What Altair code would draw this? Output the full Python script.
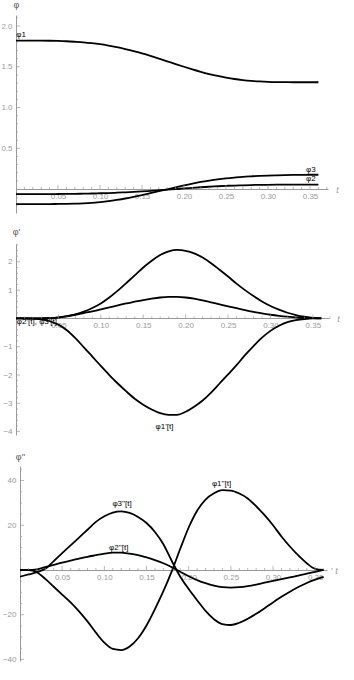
import altair as alt
import pandas as pd

# time grid (s)
T = [0.00, 0.01, 0.02, 0.03, 0.04, 0.05, 0.06, 0.07, 0.08, 0.09,
     0.10, 0.11, 0.12, 0.13, 0.14, 0.15, 0.16, 0.17, 0.18, 0.19,
     0.20, 0.21, 0.22, 0.23, 0.24, 0.25, 0.26, 0.27, 0.28, 0.29,
     0.30, 0.31, 0.32, 0.33, 0.34, 0.35, 0.36]

# angles
PHI1 = [1.820, 1.820, 1.820, 1.820, 1.819, 1.817, 1.813, 1.807, 1.800, 1.790,
        1.777, 1.760, 1.740, 1.717, 1.692, 1.664, 1.633, 1.600, 1.567, 1.533,
        1.500, 1.468, 1.438, 1.411, 1.387, 1.367, 1.350, 1.337, 1.327, 1.320,
        1.315, 1.312, 1.311, 1.310, 1.310, 1.310, 1.310]
PHI2 = [-0.062, -0.062, -0.062, -0.062, -0.062, -0.061, -0.060, -0.059, -0.057, -0.055,
        -0.052, -0.049, -0.045, -0.040, -0.035, -0.029, -0.022, -0.015, -0.008, 0.000,
        0.007, 0.015, 0.022, 0.028, 0.034, 0.039, 0.043, 0.046, 0.049, 0.051,
        0.052, 0.053, 0.054, 0.054, 0.054, 0.054, 0.054]
PHI3 = [-0.184, -0.184, -0.184, -0.184, -0.184, -0.183, -0.182, -0.180, -0.176, -0.170,
        -0.160, -0.148, -0.133, -0.116, -0.096, -0.074, -0.051, -0.027, -0.003, 0.021,
        0.045, 0.067, 0.087, 0.104, 0.119, 0.131, 0.141, 0.150, 0.156, 0.161,
        0.165, 0.168, 0.171, 0.173, 0.174, 0.175, 0.175]

# first derivatives
D1 = [0.0, 0.0, -0.01, -0.03, -0.10, -0.22, -0.42, -0.70, -1.02, -1.35,
      -1.68, -2.00, -2.30, -2.58, -2.84, -3.05, -3.22, -3.35, -3.41, -3.41,
      -3.30, -3.12, -2.90, -2.62, -2.30, -1.98, -1.65, -1.30, -0.98, -0.68,
      -0.44, -0.26, -0.13, -0.06, -0.02, 0.0, 0.0]
D2 = [0.0, 0.0, 0.0, 0.005, 0.015, 0.04, 0.08, 0.13, 0.19, 0.25,
      0.32, 0.39, 0.46, 0.53, 0.59, 0.65, 0.70, 0.74, 0.76, 0.76,
      0.74, 0.70, 0.64, 0.57, 0.50, 0.43, 0.36, 0.29, 0.23, 0.18,
      0.13, 0.09, 0.06, 0.04, 0.02, 0.01, 0.0]
D3 = [0.0, 0.0, 0.0, 0.0, 0.01, 0.03, 0.07, 0.14, 0.24, 0.37,
      0.53, 0.74, 0.98, 1.25, 1.52, 1.80, 2.04, 2.24, 2.37, 2.42,
      2.39, 2.30, 2.15, 1.95, 1.72, 1.48, 1.23, 1.00, 0.79, 0.60,
      0.44, 0.31, 0.20, 0.12, 0.06, 0.02, 0.01]

# second derivatives
DD1 = [0.0, 0.0, -1.0, -4.0, -7.5, -11.0, -14.5, -18.5, -23.0, -28.0,
       -32.5, -35.3, -35.8, -34.2, -30.5, -24.8, -17.5, -9.5, -0.5, 9.5,
       19.0, 26.5, 31.5, 34.3, 35.7, 35.5, 34.2, 32.0, 28.5, 24.5,
       20.0, 15.0, 10.5, 6.5, 3.0, 0.5, 0.0]
DD2 = [0.0, 0.0, 0.3, 1.3, 2.3, 3.3, 4.2, 5.1, 5.9, 6.6,
       7.3, 7.8, 7.8, 7.3, 6.6, 5.6, 4.4, 3.0, 1.2, -0.8,
       -2.8, -4.5, -5.9, -7.0, -7.7, -7.9, -7.7, -7.2, -6.5, -5.7,
       -4.9, -4.1, -3.3, -2.5, -1.6, -0.8, 0.0]
DD3 = [-3.0, -2.0, -1.0, 0.5, 4.0, 7.5, 11.0, 14.5, 18.0, 21.5,
       24.0, 25.7, 26.2, 25.5, 23.7, 21.0, 17.0, 11.5, 4.0, -3.0,
       -8.5, -13.5, -18.3, -22.0, -24.2, -24.6, -23.6, -21.8, -19.6, -17.1,
       -14.5, -12.0, -9.7, -7.6, -5.8, -4.3, -3.1]

# tick values
X_LABELS = [0.05, 0.10, 0.15, 0.20, 0.25, 0.30, 0.35]
X_MINOR = [0.01, 0.02, 0.03, 0.04, 0.06, 0.07, 0.08, 0.09, 0.11, 0.12, 0.13, 0.14,
           0.16, 0.17, 0.18, 0.19, 0.21, 0.22, 0.23, 0.24, 0.26, 0.27, 0.28, 0.29,
           0.31, 0.32, 0.33, 0.34, 0.36, 0.37]
Y1_LABELS = [0.5, 1.0, 1.5, 2.0]
Y1_MINOR = [-0.2, -0.1, 0.1, 0.2, 0.3, 0.4, 0.6, 0.7, 0.8, 0.9, 1.1, 1.2, 1.3, 1.4,
            1.6, 1.7, 1.8, 1.9, 2.1]
Y2_LABELS = [-4, -3, -2, -1, 1, 2]
Y2_MINOR = [-3.8, -3.6, -3.4, -3.2, -2.8, -2.6, -2.4, -2.2, -1.8, -1.6, -1.4, -1.2,
            -0.8, -0.6, -0.4, -0.2, 0.2, 0.4, 0.6, 0.8, 1.2, 1.4, 1.6, 1.8, 2.2, 2.4, 2.6]
Y3_LABELS = [-40, -20, 20, 40]
Y3_MINOR = [-35, -30, -25, -15, -10, -5, 5, 10, 15, 25, 30, 35, 45]

# curve labels (text, t, value)
L1_TEXT = ["φ1", "φ3", "φ2"]
L1_T = [0.006, 0.351, 0.351]
L1_V = [1.89, 0.233, 0.123]
L2_TEXT = ["φ1'[t]"]
L2_T = [0.175]
L2_V = [-3.82]
L2L_TEXT = ["φ2'[t], φ3'[t]"]
L2L_T = [0.001]
L2L_V = [-0.14]
L3_TEXT = ["φ3''[t]", "φ2''[t]", "φ1''[t]"]
L3_T = [0.121, 0.117, 0.239]
L3_V = [29.5, 10.0, 38.5]

GRAY = "#9a9a9a"
FONT = "Liberation Sans"


def long_df(series):
    rows = []
    for name, vals in series.items():
        for t, v in zip(T, vals):
            rows.append({"t": t, "v": v, "s": name})
    return pd.DataFrame(rows)


def panel(series, xdom, ydom, width, height, ytitle, title_dy, ylabels, yfmt,
          yminor, labels_c, labels_l=None):
    xs = alt.Scale(domain=xdom, nice=False, zero=False)
    ys = alt.Scale(domain=ydom, nice=False, zero=False)
    off = -round(height * (0 - ydom[0]) / (ydom[1] - ydom[0]))
    xaxis = alt.Axis(values=X_LABELS, format=".2f", ticks=False, grid=False,
                     domainColor=GRAY, domainWidth=1, labelColor=GRAY,
                     labelFont=FONT, labelFontSize=8, labelPadding=3,
                     labelOverlap=False, labelFlush=False, offset=off,
                     title="t", titleX=width + 9, titleY=0, titleAlign="center",
                     titleBaseline="middle", titleFontStyle="italic",
                     titleFontWeight="normal", titleColor=GRAY, titleFont=FONT,
                     titleFontSize=9)
    yaxis = alt.Axis(values=ylabels, format=yfmt, ticks=False, grid=False,
                     domainColor=GRAY, domainWidth=1, labelColor=GRAY,
                     labelFont=FONT, labelFontSize=8, labelPadding=4,
                     labelOverlap=False, labelFlush=False,
                     title=ytitle, titleAngle=0, titleX=0, titleY=-title_dy,
                     titleAlign="center", titleBaseline="middle",
                     titleFontWeight="normal", titleColor="#555555", titleFont=FONT,
                     titleFontSize=9)
    lines = alt.Chart(long_df(series)).mark_line(
        color="black", strokeWidth=1.8, interpolate="monotone", clip=True
    ).encode(
        x=alt.X("t:Q", scale=xs, axis=xaxis),
        y=alt.Y("v:Q", scale=ys, axis=yaxis),
        detail="s:N",
    )
    xmaj = alt.Chart(pd.DataFrame({"t": X_LABELS})).mark_tick(
        orient="vertical", size=4, thickness=1, yOffset=-2, color=GRAY
    ).encode(x=alt.X("t:Q", scale=xs, axis=xaxis), y=alt.YDatum(0, scale=ys, axis=yaxis))
    xmin = alt.Chart(pd.DataFrame({"t": X_MINOR})).mark_tick(
        orient="vertical", size=2, thickness=1, yOffset=-1, color=GRAY
    ).encode(x=alt.X("t:Q", scale=xs, axis=xaxis), y=alt.YDatum(0, scale=ys, axis=yaxis))
    ymaj = alt.Chart(pd.DataFrame({"v": ylabels})).mark_tick(
        orient="horizontal", size=4, thickness=1, xOffset=2, color=GRAY
    ).encode(y=alt.Y("v:Q", scale=ys, axis=yaxis), x=alt.XDatum(0, scale=xs, axis=xaxis))
    ymin = alt.Chart(pd.DataFrame({"v": yminor})).mark_tick(
        orient="horizontal", size=2, thickness=1, xOffset=1, color=GRAY
    ).encode(y=alt.Y("v:Q", scale=ys, axis=yaxis), x=alt.XDatum(0, scale=xs, axis=xaxis))
    layers = [lines, xmin, xmaj, ymin, ymaj]
    txt, tt, tv = labels_c
    lab = alt.Chart(pd.DataFrame({"text": txt, "t": tt, "v": tv})).mark_text(
        align="center", baseline="middle", fontSize=8, font=FONT, color="black"
    ).encode(x=alt.X("t:Q", scale=xs, axis=xaxis), y=alt.Y("v:Q", scale=ys, axis=yaxis),
             text="text:N")
    layers.append(lab)
    if labels_l is not None:
        txt, tt, tv = labels_l
        labl = alt.Chart(pd.DataFrame({"text": txt, "t": tt, "v": tv})).mark_text(
            align="left", baseline="middle", fontSize=8, font=FONT, color="black"
        ).encode(x=alt.X("t:Q", scale=xs, axis=xaxis), y=alt.Y("v:Q", scale=ys, axis=yaxis),
                 text="text:N")
        layers.append(labl)
    return alt.layer(*layers).properties(width=width, height=height)


p1 = panel({"φ1": PHI1, "φ2": PHI2, "φ3": PHI3}, [0, 0.3714], [-0.294, 2.135],
           312, 198, "φ", 11, Y1_LABELS, ".1f", Y1_MINOR, (L1_TEXT, L1_T, L1_V))
p2 = panel({"φ1'": D1, "φ2'": D2, "φ3'": D3}, [0, 0.369], [-4.12, 2.63],
           313, 191, "φ'", 13, Y2_LABELS, "d", Y2_MINOR, (L2_TEXT, L2_T, L2_V),
           (L2L_TEXT, L2L_T, L2L_V))
p3 = panel({"φ1''": DD1, "φ2''": DD2, "φ3''": DD3}, [0, 0.364], [-40.7, 46.5],
           307, 195, "φ''", 10, Y3_LABELS, "d", Y3_MINOR, (L3_TEXT, L3_T, L3_V))

# invisible narrow spacer that shifts the third panel slightly right
spacer = alt.Chart(pd.DataFrame({"a": [0]})).mark_point(opacity=0).encode(
    x=alt.X("a:Q", axis=None), y=alt.Y("a:Q", axis=None)
).properties(width=4, height=195)
row3 = alt.hconcat(spacer, p3, spacing=0, bounds="flush")

chart = alt.vconcat(p1, p2, row3, spacing=31, bounds="flush").properties(
    padding={"left": 0, "top": 0, "right": 0, "bottom": 0}
).configure_view(stroke=None)

chart.save("out.html", embed_options={"renderer": "svg", "actions": False})
